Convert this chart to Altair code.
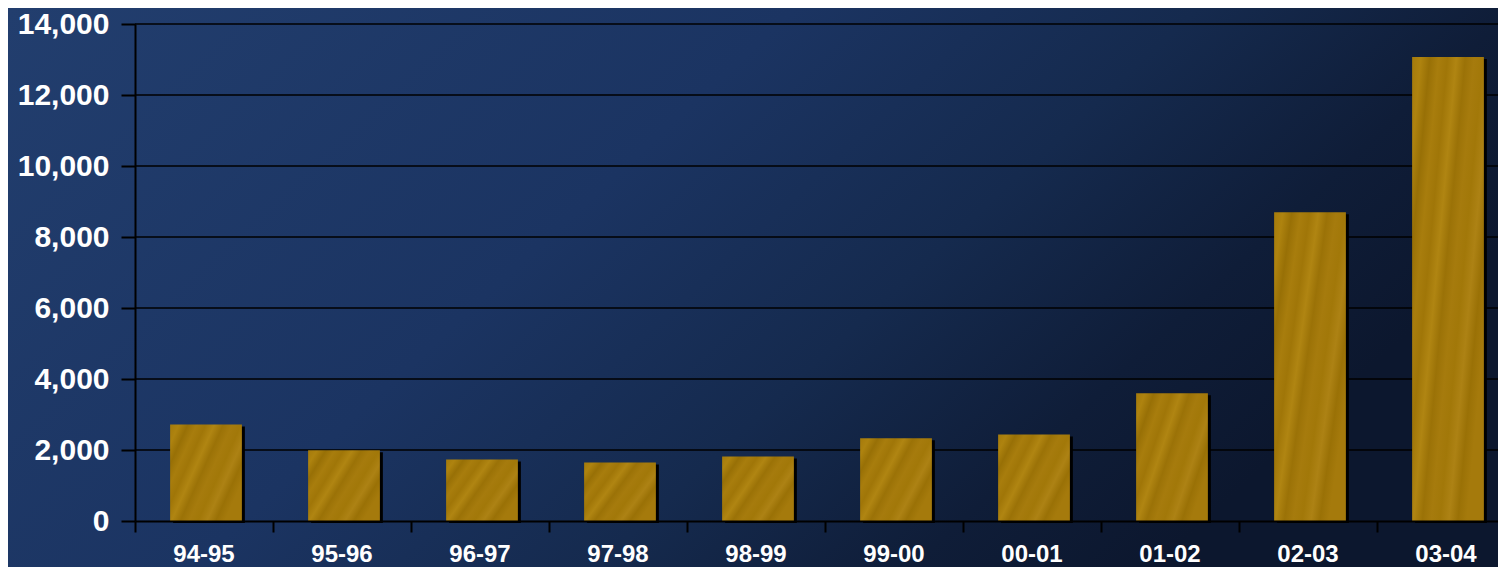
import altair as alt
import pandas as pd

seasons = ["94-95", "95-96", "96-97", "97-98", "98-99", "99-00", "00-01", "01-02", "02-03", "03-04"]
values = [2720, 1990, 1730, 1650, 1820, 2330, 2440, 3600, 8700, 13070]
y_ticks = [0, 2000, 4000, 6000, 8000, 10000, 12000, 14000]

df = pd.DataFrame({"season": seasons, "value": values})
grid_df = pd.DataFrame({"value": y_ticks[1:]})

W, H = 1363, 497
PAD = {"left": 127, "top": 16, "right": 0, "bottom": 46}

bg_grad = alt.Gradient(
    gradient="linear",
    x1=0, y1=0, x2=1, y2=0.4,
    stops=[
        alt.GradientStop(color="#223e6e", offset=0),
        alt.GradientStop(color="#1b3462", offset=0.45),
        alt.GradientStop(color="#152a4e", offset=0.68),
        alt.GradientStop(color="#0f1d38", offset=0.86),
        alt.GradientStop(color="#0c172e", offset=1),
    ],
)

shades = ["#a47a0b", "#ae830f", "#987006", "#a87d0d", "#a07608", "#b08512",
          "#9b7207", "#a67b0d", "#a27809", "#ad8214", "#9a7106", "#a57a0c"]
n = len(shades)
gold_stops = [alt.GradientStop(color=c, offset=i / (n - 1)) for i, c in enumerate(shades)]
bar_grad = alt.Gradient(gradient="linear", x1=0, y1=0, x2=1, y2=0.6, stops=gold_stops)

background = alt.Chart(pd.DataFrame({"k": [0]})).mark_rect(fill=bg_grad).encode(
    x=alt.value(-PAD["left"]),
    x2=alt.value(W + 20),
    y=alt.value(-PAD["top"]),
    y2=alt.value(H + PAD["bottom"]),
)

axis_common = dict(
    labelColor="white",
    labelFont="Liberation Sans",
    labelFontWeight="bold",
    domainColor="black",
    domainWidth=2,
    tickColor="black",
    tickWidth=2,
    grid=False,
    zindex=1,
)

x_enc = alt.X(
    "season:N",
    sort=seasons,
    scale=alt.Scale(range=[0, 1380], paddingInner=0, paddingOuter=0),
    axis=alt.Axis(
        title=None,
        labelAngle=0,
        labelFontSize=24,
        labelPadding=10,
        tickSize=11,
        bandPosition=0,
        **axis_common,
    ),
)
y_scale = alt.Scale(domain=[0, 14000], nice=False)
y_enc = alt.Y(
    "value:Q",
    scale=y_scale,
    axis=alt.Axis(
        title=None,
        values=y_ticks,
        format=",d",
        labelFontSize=30,
        labelPadding=12,
        tickSize=14,
        **axis_common,
    ),
)

grid = alt.Chart(grid_df).mark_rule(color="black", strokeWidth=1.3).encode(
    y=alt.Y("value:Q", scale=y_scale),
    x=alt.value(0),
    x2=alt.value(W + 20),
)

shadow = alt.Chart(df).mark_bar(
    color="black", width=alt.RelativeBandSize(0.52), xOffset=5, yOffset=2
).encode(x=x_enc, y=y_enc)

bars = alt.Chart(df).mark_bar(
    fill=bar_grad, width=alt.RelativeBandSize(0.52), xOffset=2
).encode(x=x_enc, y=y_enc)

chart = alt.layer(background, grid, shadow, bars).properties(
    width=W,
    height=H,
    autosize=alt.AutoSizeParams(type="none"),
    padding=PAD,
    background="#1a3360",
).configure_view(stroke=None)

chart.save("out.html", embed_options={"renderer": "svg", "actions": False})
